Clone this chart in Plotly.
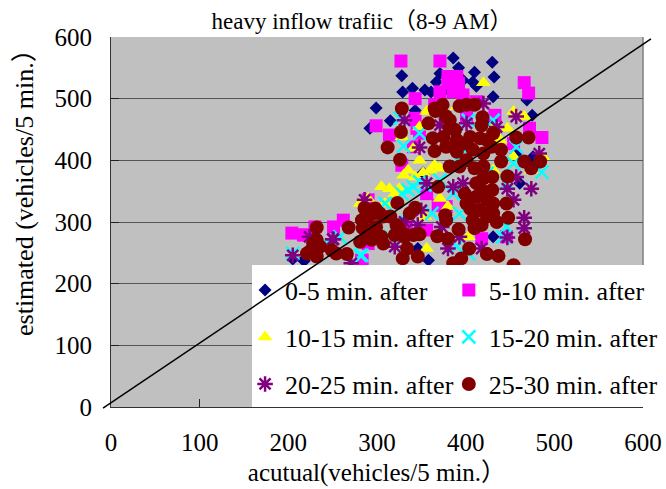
import plotly.graph_objects as go

navy_x = [386,430,328,432,392,410,371,329,340,354,408,431,299,315,292,475,461,431,346,358,217,218,343,367,361,423,469,457,476,205,412,397,380,440,390,352,330,420]
navy_y = [566,559,537,535,550,543,541,511,517,514,527,503,485,464,452,473,363,276,257,238,238,237,481,527,511,465,498,411,406,240,520,530,515,420,450,380,300,340]
magenta_x = [327,371,466,471,343,380,390,380,392,371,386,397,412,299,314,343,365,433,348,328,486,472,446,418,356,262,251,230,217,283,369,378,356,290,333,290,341,345,401,454,204,219,283]
magenta_y = [561,561,526,509,500,536,536,525,525,511,511,506,495,456,441,468,490,473,444,392,437,452,276,273,287,303,292,292,279,238,327,325,346,336,292,265,422,452,471,427,282,279,238]
yellow_x = [420,356,454,466,447,431,348,328,341,348,360,330,343,305,314,325,371,380,354,356,290,281,454,487,474,431,371,403,320,309,390,439,335,352,365]
yellow_y = [526,479,479,471,452,457,454,438,419,400,384,376,373,357,354,354,338,325,309,257,338,330,406,406,384,384,387,276,346,330,487,433,384,380,392]
cyan_x = [330,348,403,431,326,341,335,348,309,454,486,386,362,393,446,412,446,283,322,403,390,424,393,371,378,457,442,315,243,205,281,258,328,354]
cyan_y = [423,444,465,465,468,357,352,365,330,395,381,346,314,314,292,352,363,246,300,249,260,379,406,368,449,422,276,276,265,249,246,276,346,360]
purple_x = [331,348,371,457,483,474,457,447,454,466,466,447,418,380,393,412,397,356,386,350,331,346,320,286,251,224,271,435,401,373,420,205,250]
purple_y = [465,421,457,471,411,354,373,354,336,307,290,275,257,257,276,336,363,363,357,319,300,295,260,336,272,276,233,454,460,292,492,246,272]
maroon_x = [328,327,312,326,358,366,374,393,410,419,382,388,363,365,378,397,416,431,457,471,440,440,420,420,401,382,369,399,412,430,430,447,466,474,484,405,416,431,446,448,424,410,377,378,392,368,380,404,424,437,467,454,395,386,346,329,334,348,333,320,307,294,281,268,266,232,228,224,249,232,323,343,337,315,303,298,286,283,284,299,322,375,390,405,424,390,408,429,393,410,420,412,418,424,431,408,418,435,401,424,382,378,418,365,401,296,307,290,292,305,288,331,341,326,221,236,232,254]
maroon_y = [484,446,421,401,460,480,490,488,490,470,465,449,436,415,422,427,436,444,437,437,417,398,411,390,400,390,357,346,363,373,352,374,398,387,398,322,319,330,330,307,309,290,311,303,288,277,273,257,248,245,272,230,241,233,244,241,257,280,279,279,265,271,268,291,248,291,265,252,254,244,331,323,314,309,314,322,322,303,290,292,295,438,433,438,433,414,417,422,390,387,371,341,352,314,314,303,295,300,330,336,452,471,457,484,490,314,309,309,287,276,276,276,279,287,249,260,271,249]
line_x = [-9, 609]
line_y = [-2, 597]
ticks = [0, 100, 200, 300, 400, 500, 600]

SERIES = [
    ("0-5 min. after", navy_x, navy_y, "#000080", "diamond", 10),
    ("5-10 min. after", magenta_x, magenta_y, "#FF00FF", "square", 13),
    ("10-15 min. after", yellow_x, yellow_y, "#FFFF00", "triangle-up", 13),
    ("15-20 min. after", cyan_x, cyan_y, "#00FFFF", "x-thin-open", 13),
    ("20-25 min. after", purple_x, purple_y, "#800080", "asterisk-open", 13),
    ("25-30 min. after", maroon_x, maroon_y, "#800000", "circle", 14),
]
SERIF = "Liberation Serif, Times New Roman, serif"
CJK = SERIF + ", Noto Sans CJK JP"
L_COL = [0.252, 0.635]
L_ROW = [0.316, 0.189, 0.062]

fig = go.Figure()
layout_legends = {}
for i, (name, xs, ys, col, sym, size) in enumerate(SERIES):
    key = "legend" if i == 0 else f"legend{i+1}"
    open_sym = sym.endswith("open")
    fig.add_trace(go.Scatter(
        x=xs, y=ys, mode="markers", name=name, legend=key,
        marker=dict(color=col, symbol=sym, size=size,
                    line=dict(color=col, width=2.5 if open_sym else 0)),
    ))
    layout_legends[key] = dict(
        x=L_COL[i % 2], y=L_ROW[i // 2], xanchor="left", yanchor="middle",
        bgcolor="rgba(0,0,0,0)", borderwidth=0, itemsizing="trace", itemwidth=30,
        font=dict(family=SERIF, size=26, color="black"),
    )

axis = dict(range=[0, 600], tickvals=ticks, ticks="inside", ticklen=8, tickcolor="#222",
            tickfont=dict(family=SERIF, size=25, color="black"),
            ticklabelstandoff=13, showline=True, linecolor="#333", linewidth=1,
            zeroline=False, automargin=False)

def px(v):
    return v / 600

shapes = [
    dict(type="line", xref="paper", yref="paper", x0=1, x1=1, y0=0, y1=1,
         line=dict(color="#808080", width=1.5), layer="below"),
    dict(type="rect", xref="paper", yref="paper", x0=0.265, x1=1.05, y0=0, y1=0.384,
         fillcolor="white", line=dict(width=0), layer="above"),
    dict(type="line", xref="paper", yref="paper", x0=px(line_x[0]), x1=px(line_x[1]),
         y0=px(line_y[0]), y1=px(line_y[1]), line=dict(color="black", width=1.5), layer="above"),
]

fig.update_layout(
    width=666, height=489,
    margin=dict(l=111, r=23, t=37, b=82, autoexpand=False),
    paper_bgcolor="white", plot_bgcolor="#C0C0C0",
    title=dict(text="heavy inflow trafiic（8-9 AM）", x=362/666, xanchor="center", y=1-21/489, yanchor="middle",
               font=dict(family=CJK, size=23, color="black")),
    xaxis=dict(axis, showgrid=False,
               title=dict(text="acutual(vehicles/5 min.）", standoff=8,
                          font=dict(family=CJK, size=25, color="black"))),
    yaxis=dict(axis, showgrid=True, gridcolor="#555", gridwidth=1),
    annotations=[dict(text="estimated (vehicles/5 min.）", textangle=-90, showarrow=False,
                      xref="paper", yref="paper", x=(24-111)/532, y=(407-186)/370,
                      xanchor="center", yanchor="middle",
                      font=dict(family=CJK, size=26, color="black"))],
    shapes=shapes,
    showlegend=True,
    **layout_legends,
)
fig.write_html("out.html", post_script="document.body.style.margin='0';",
               config={"displayModeBar": False})
